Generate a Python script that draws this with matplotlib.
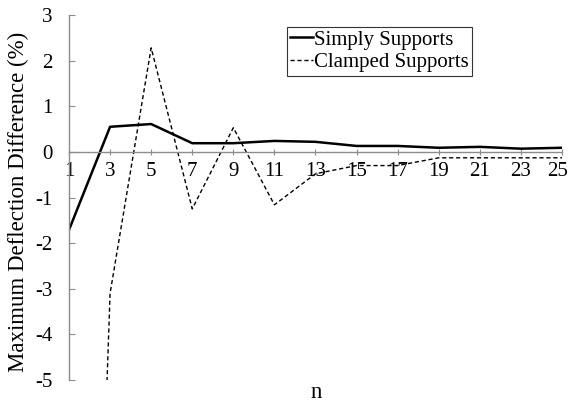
import matplotlib

matplotlib.use("Agg")
import matplotlib.pyplot as plt

n_values = [1, 3, 5, 7, 9, 11, 13, 15, 17, 19, 21, 23, 25]
simply_supports = [-1.71, 0.55, 0.61, 0.19, 0.19, 0.24, 0.22, 0.13, 0.13, 0.09, 0.11, 0.07, 0.09]
clamped_supports = [-29.0, -3.1, 2.28, -1.25, 0.53, -1.16, -0.48, -0.3, -0.3, -0.13, -0.13, -0.13, -0.13]
y_ticks = [-5, -4, -3, -2, -1, 0, 1, 2, 3]

plt.rcParams["font.family"] = ["Liberation Serif", "DejaVu Serif"]
plt.rcParams["font.size"] = 15
plt.rcParams["axes.unicode_minus"] = False

axis_grey = "#8c8c8c"

fig = plt.figure(figsize=(5.7, 4.01), dpi=100)
ax = fig.add_axes([69 / 570, 1 - 380 / 401, (562 - 69) / 570, (380 - 15) / 401])

ax.plot(n_values, simply_supports, color="black", lw=1.8, label="Simply Supports")
ax.plot(n_values, clamped_supports, color="black", lw=1.0,
        linestyle=(0, (3, 2)), label="Clamped Supports")

ax.set_xlim(1, 25)
ax.set_ylim(-5, 3)
ax.set_xticks(n_values)
# last label is drawn separately, nudged left so it stays inside the figure
ax.set_xticklabels([str(v) for v in n_values[:-1]] + [""])
ax.annotate(str(n_values[-1]), xy=(n_values[-1], 0), xytext=(-3, -7.5),
            textcoords="offset points", ha="center", va="top")
ax.set_yticks(y_ticks)

ax.spines["top"].set_visible(False)
ax.spines["right"].set_visible(False)
ax.spines["bottom"].set_position(("data", 0))
for side in ("left", "bottom"):
    ax.spines[side].set_color(axis_grey)
    ax.spines[side].set_linewidth(1.0)

ax.tick_params(axis="y", direction="in", length=4, color=axis_grey, pad=12)
ax.tick_params(axis="x", direction="inout", length=5, color=axis_grey, pad=5)

leg = ax.legend(loc="upper left", bbox_to_anchor=((287 - 69) / 493, 1 - 12 / 365),
                frameon=True, fancybox=False, edgecolor="black",
                handlelength=1.1, handletextpad=0.05, borderpad=0.15,
                labelspacing=0.15, borderaxespad=0)
leg.get_frame().set_linewidth(0.8)

fig.text(18 / 570, 1 - 202 / 401, "Maximum Deflection Difference (%)",
         rotation=90, ha="center", va="center", fontsize=16.5)
fig.text(316 / 570, 1 - 392 / 401, "n", ha="center", va="center", fontsize=16.5)

fig.savefig("out.png", dpi=100)
